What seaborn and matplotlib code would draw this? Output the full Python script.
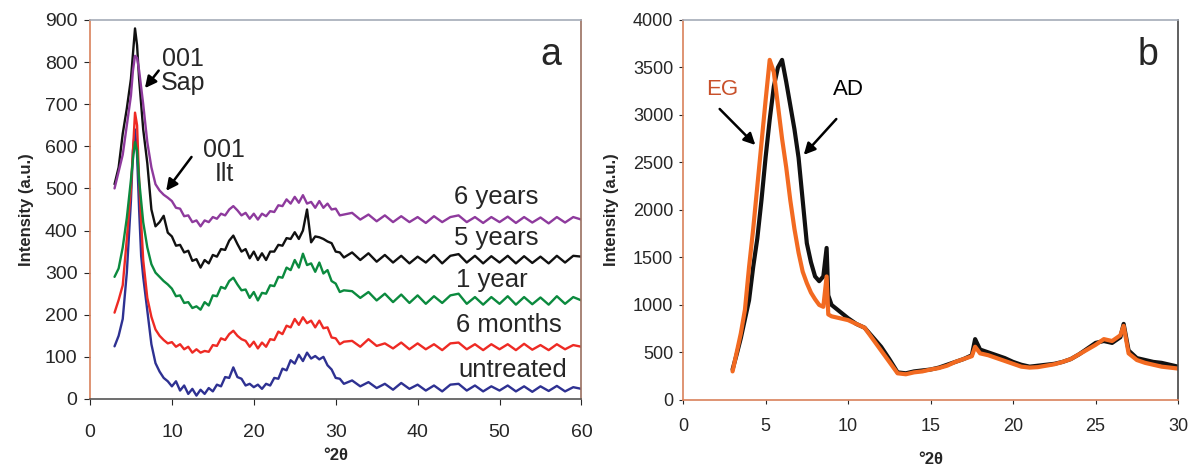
import pandas as pd
import seaborn as sns
import matplotlib.pyplot as plt

# panel a: XRD patterns of the treated samples
x_a = [3, 3.5, 4, 4.5, 5, 5.25, 5.5, 5.75, 6, 6.25, 6.5,
       7, 7.5, 8, 8.5, 9, 9.5,
       10, 10.5, 11, 11.5, 12, 12.5, 13, 13.5, 14, 14.5,
       15, 15.5, 16, 16.5, 17, 17.5, 18, 18.5, 19, 19.5,
       20, 20.5, 21, 21.5, 22, 22.5, 23, 23.5, 24, 24.5,
       25, 25.5, 26, 26.5, 27, 27.5, 28, 28.5, 29, 29.5,
       30, 30.5, 31,
       32, 33, 34, 35, 36, 37, 38, 39, 40, 41,
       42, 43, 44, 45, 46, 47, 48, 49, 50, 51,
       52, 53, 54, 55, 56, 57, 58, 59, 60]

untreated = [125, 150, 190, 300, 470, 590, 640, 580, 450, 340, 290,
             210, 130, 85, 65, 50, 42,
             30, 42, 20, 32, 12, 24, 8, 22, 12, 26,
             18, 34, 30, 52, 50, 75, 52, 48, 32, 36,
             28, 34, 24, 36, 32, 50, 48, 72, 68, 92,
             84, 105, 90, 110, 96, 102, 94, 100, 80, 70,
             50, 48, 36,
             44, 30, 40, 26, 36, 22, 38, 24, 34, 20,
             32, 18, 34, 36, 20, 32, 18, 30, 20, 32,
             18, 30, 17, 30, 19, 31, 18, 28, 24]

six_months = [205, 235, 270, 380, 500, 590, 680, 650, 520, 420, 330,
              240, 195, 165, 150, 140, 132,
              135, 124, 130, 118, 124, 110, 118, 110, 114, 112,
              128, 126, 144, 140, 154, 162, 150, 142, 138, 124,
              136, 120, 134, 124, 142, 140, 160, 154, 174, 170,
              190, 176, 194, 180, 186, 170, 186, 168, 170, 146,
              144, 130, 136,
              138, 124, 142, 126, 132, 120, 134, 118, 132, 118,
              130, 116, 132, 134, 118, 130, 116, 130, 118, 130,
              116, 131, 117, 128, 116, 130, 118, 128, 124]

one_year = [290, 310, 360, 430, 520, 570, 610, 590, 520, 470, 420,
            360, 320, 300, 290, 280, 272,
            262, 244, 246, 228, 230, 216, 220, 212, 230, 222,
            246, 244, 266, 262, 280, 288, 272, 258, 260, 240,
            254, 234, 252, 250, 270, 268, 290, 288, 312, 306,
            330, 312, 345, 318, 322, 302, 324, 298, 306, 280,
            274, 254, 258,
            256, 240, 254, 234, 250, 230, 248, 228, 246, 226,
            244, 228, 246, 250, 226, 242, 224, 242, 226, 244,
            224, 242, 225, 241, 224, 244, 226, 242, 234]

five_years = [510, 550, 630, 690, 760, 820, 880, 840, 760, 700, 640,
              560, 450, 410, 420, 435, 395,
              386, 364, 366, 348, 352, 328, 332, 312, 330, 322,
              342, 338, 356, 354, 376, 388, 368, 350, 356, 334,
              350, 330, 346, 330, 350, 350, 366, 364, 382, 380,
              396, 380, 400, 450, 372, 386, 384, 380, 374, 370,
              350, 348, 336,
              348, 330, 346, 326, 342, 324, 340, 322, 338, 324,
              342, 322, 340, 344, 324, 340, 322, 339, 324, 340,
              322, 339, 323, 338, 322, 340, 324, 340, 338]

six_years = [500, 540, 580, 650, 720, 780, 815, 810, 780, 740, 700,
             610, 550, 510, 495, 485, 478,
             470, 454, 452, 434, 436, 420, 424, 410, 424, 420,
             432, 428, 440, 436, 450, 458, 448, 436, 442, 428,
             440, 426, 440, 434, 446, 444, 460, 458, 474, 464,
             480, 466, 484, 464, 468, 454, 470, 454, 464, 450,
             452, 436, 438,
             442, 426, 438, 422, 436, 420, 434, 420, 432, 418,
             434, 420, 432, 436, 420, 432, 418, 432, 420, 433,
             418, 432, 419, 431, 417, 432, 419, 432, 426]

names_a = ["untreated", "6 months", "1 year", "5 years", "6 years"]
colors_a = ["#2e3192", "#ee2a24", "#0b8a3e", "#111111", "#8e3a9d"]

# panel b: air dried vs glycolated
x_b = [3, 3.25, 3.5, 3.75, 4, 4.25, 4.5, 4.75, 5, 5.25, 5.5, 5.75, 6, 6.25, 6.5, 6.75,
       7, 7.25, 7.5, 7.75, 8, 8.25, 8.5, 8.7, 8.8, 9, 9.5, 10, 10.5, 11, 11.5, 12, 12.5,
       13, 13.5, 14, 14.5, 15, 15.5, 16, 16.5, 17, 17.5, 17.7, 18, 18.5, 19, 19.5, 20,
       20.5, 21, 21.5, 22, 22.5, 23, 23.5, 24, 24.5, 25, 25.5, 26, 26.5, 26.7, 27, 27.5,
       28, 28.5, 29, 29.5, 30]

ad = [320, 480, 650, 850, 1050, 1400, 1700, 2100, 2550, 2950, 3300, 3500, 3580, 3350, 3100, 2850,
      2550, 2100, 1650, 1450, 1300, 1250, 1300, 1600, 1100, 1000, 930, 860, 800, 760, 660, 560, 430,
      290, 280, 300, 310, 320, 340, 370, 400, 430, 470, 640, 530, 500, 470, 440, 400,
      370, 350, 360, 370, 380, 400, 430, 480, 540, 600, 620, 600, 660, 800, 520, 440,
      420, 400, 390, 370, 350]

eg = [300, 500, 700, 950, 1400, 1800, 2250, 2700, 3150, 3580, 3450, 3100, 2750, 2450, 2100, 1800,
      1550, 1350, 1230, 1130, 1060, 1000, 980, 1300, 900, 880, 860, 840, 800, 760, 640, 520, 400,
      280, 270, 290, 300, 320, 335, 360, 400, 430, 460, 560, 490, 470, 440, 410, 380,
      350, 340, 345, 360, 375, 400, 430, 480, 530, 580, 640, 620, 680, 780, 490, 420,
      390, 370, 350, 340, 330]

sns.set_style("white")
plt.rcParams['font.family'] = ['Liberation Sans', 'DejaVu Sans']

fig = plt.figure(figsize=(11.9, 4.65), dpi=100)
ax1 = fig.add_axes([0.0756, 0.142, 0.413, 0.815])
ax2 = fig.add_axes([0.574, 0.140, 0.416, 0.817])

#panel a
for name, vals, col in zip(names_a, [untreated, six_months, one_year, five_years, six_years], colors_a):
    df = pd.DataFrame({"x": x_a, "y": vals})
    sns.lineplot(data=df, x="x", y="y", ax=ax1, color=col, lw=1.7, estimator=None, sort=False)

ax1.set_xlim(0, 60)
ax1.set_ylim(0, 900)
ax1.set_xticks(range(0, 61, 10))
ax1.set_yticks(range(0, 901, 100))
ax1.tick_params(labelsize=14, length=4, width=0.8, direction="out", left=True, bottom=True)
ax1.tick_params(axis="x", pad=14)
ax1.tick_params(axis="y", pad=5)
ax1.set_xlabel("°2θ", fontsize=12, fontweight="bold", labelpad=5)
ax1.set_ylabel("Intensity (a.u.)", fontsize=12, fontweight="bold", labelpad=8)

label_pos = [(51.6, 69, "untreated"), (51.2, 176, "6 months"), (49, 283, "1 year"),
             (49.6, 382, "5 years"), (49.6, 480, "6 years")]
for lx, ly, txt in label_pos:
    ax1.text(lx, ly, txt, fontsize=18.5, ha="center", va="center")
ax1.text(56.3, 817, "a", fontsize=27, ha="center", va="center")
ax1.text(11.4, 778, "001\nSap", fontsize=18, ha="center", va="center", linespacing=1.0)
ax1.text(16.4, 562, "001\nIlt", fontsize=18, ha="center", va="center", linespacing=1.0)
arrow = dict(arrowstyle="-|>", color="black", lw=1.8, mutation_scale=17)
ax1.annotate("", xy=(6.5, 733), xytext=(8.6, 785), arrowprops=arrow)
ax1.annotate("", xy=(9.1, 489), xytext=(12.6, 580), arrowprops=arrow)

#panel b
sns.lineplot(x=x_b, y=ad, ax=ax2, color="#111111", lw=3, estimator=None, sort=False)
sns.lineplot(x=x_b, y=eg, ax=ax2, color="#f26a21", lw=3, estimator=None, sort=False)
ax2.set_xlim(0, 30)
ax2.set_ylim(0, 4000)
ax2.set_xticks(range(0, 31, 5))
ax2.set_yticks(range(0, 4001, 500))
ax2.tick_params(labelsize=13, length=3, width=0.8, direction="out", left=True, bottom=True)
ax2.tick_params(axis="x", pad=10)
ax2.tick_params(axis="y", pad=4)
ax2.set_xlabel("°2θ", fontsize=12, fontweight="bold", labelpad=12)
ax2.set_ylabel("Intensity (a.u.)", fontsize=12, fontweight="bold", labelpad=10)
ax2.text(2.4, 3263, "EG", fontsize=16, color="#c8502a", ha="center", va="center")
ax2.text(10.0, 3263, "AD", fontsize=16, color="black", ha="center", va="center")
ax2.text(28.2, 3630, "b", fontsize=27, ha="center", va="center")
ax2.annotate("", xy=(4.5, 2663), xytext=(2.1, 3084), arrowprops=arrow)
ax2.annotate("", xy=(7.2, 2558), xytext=(9.4, 2979), arrowprops=arrow)

for ax in (ax1, ax2):
    ax.spines["top"].set_color("#a4abb8")
    ax.spines["left"].set_color("#d9825b")
    ax.spines["right"].set_color("#9a7060")
    for s in ax.spines.values():
        s.set_linewidth(1.2)
ax1.spines["bottom"].set_color("#555555")
ax2.spines["bottom"].set_color("#d9825b")
ax2.spines["right"].set_color("#444444")

plt.savefig("out.png", dpi=100)
